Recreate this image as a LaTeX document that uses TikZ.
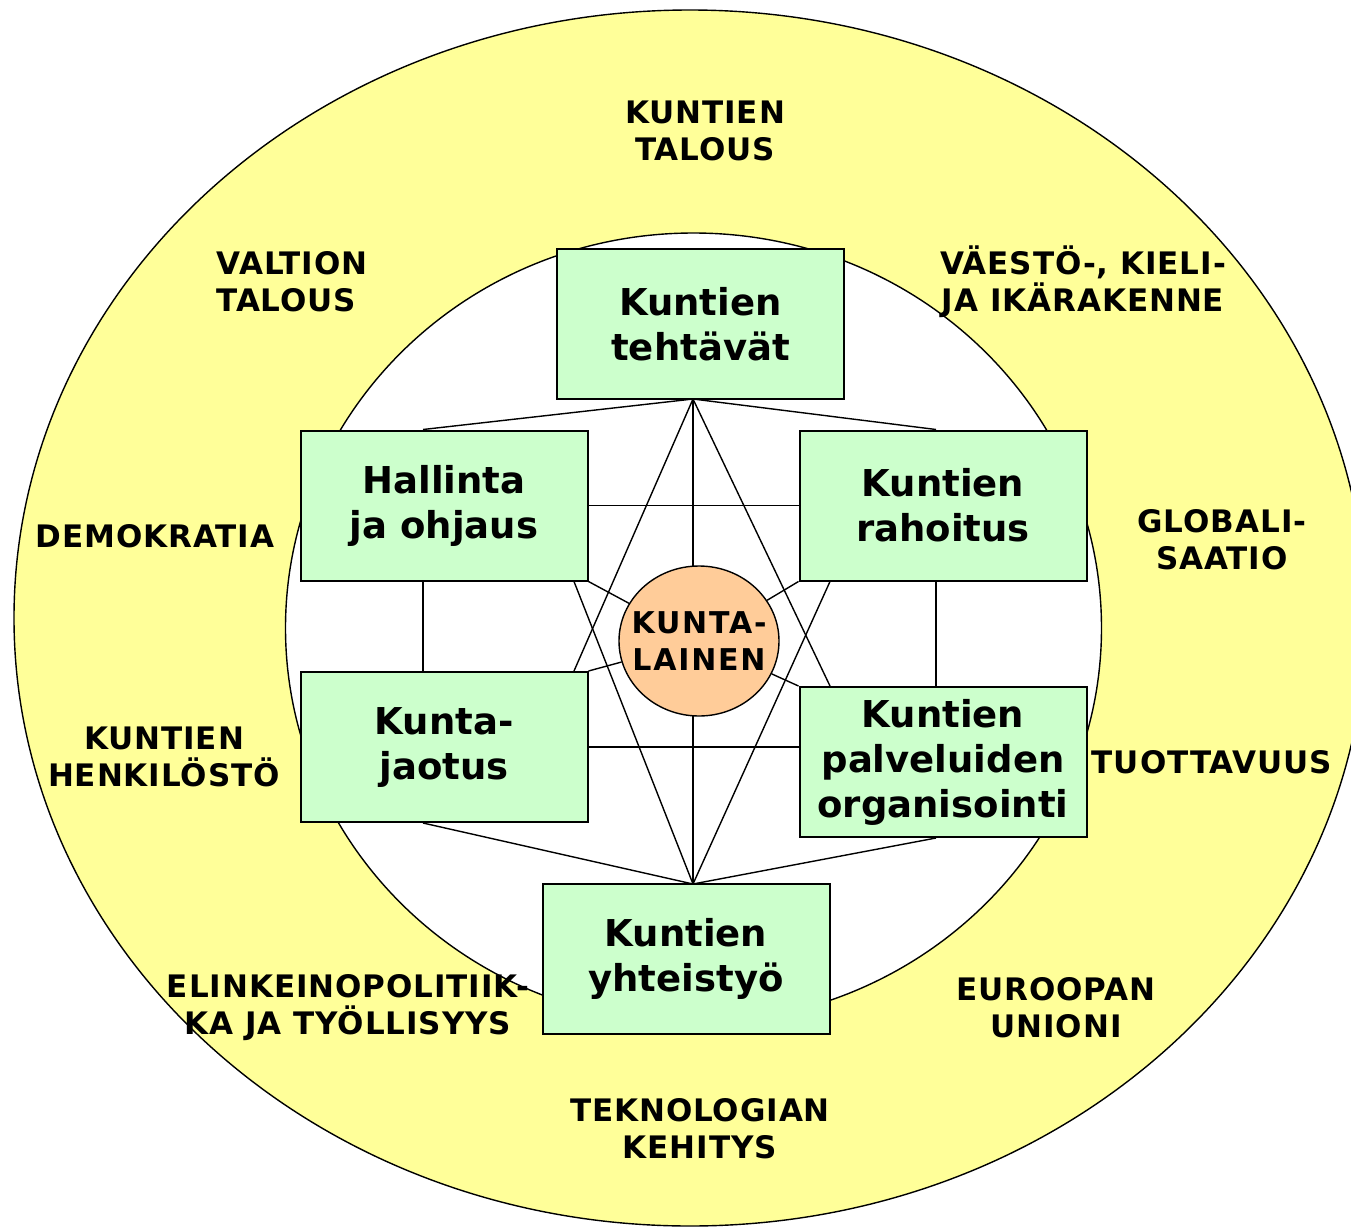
\documentclass[tikz,border=0pt]{standalone}
\usepackage{fontspec}
\setmainfont{DejaVu Sans}
\usetikzlibrary{backgrounds,shapes.geometric}
\definecolor{ringyellow}{HTML}{FFFF99}
\definecolor{boxgreen}{HTML}{CCFFCC}
\definecolor{citizen}{HTML}{FFCC99}
\begin{document}
\begin{tikzpicture}[x=0.5pt, y=-0.5pt,
		box/.style={draw, line width=1pt, fill=boxgreen, minimum width=143.5pt, minimum height=75pt,
			inner sep=0pt, align=center, font=\bfseries\fontsize{18.5}{22.5}\selectfont},
		factor/.style={align=center, inner sep=0pt,
			font=\bfseries\fontsize{15.5}{18.5}\selectfont\addfontfeature{LetterSpace=3}},
		link/.style={line width=0.7pt}]
		\useasboundingbox (0,0) rectangle (1351,1227);
		
		% Topic boxes
		\node[box] (teht) at (700.5,324) {Kuntien\\tehtävät};
		\node[box] (hall) at (444,505.5) {Hallinta\\ja ohjaus};
		\node[box] (rah) at (943,505.5) {Kuntien\\rahoitus};
		\node[box] (kjao) at (444,747) {Kunta-\\jaotus};
		\node[box] (palv) at (943,762) {Kuntien\\palveluiden\\organisointi};
		\node[box] (yht) at (686,958.5) {Kuntien\\yhteistyö};
		
		% Citizen in the middle
		\node[draw, ellipse, line width=0.7pt, fill=citizen, minimum width=80pt, minimum height=75pt,
			inner xsep=-20pt, inner ysep=-10pt, align=center,
			font=\bfseries\fontsize{15}{18.5}\selectfont\addfontfeature{LetterSpace=6}] (kl) at (699,641) {KUNTA-\\LAINEN};
		
		% Outer factors
		\node[factor] (ktal) at (705,131) {KUNTIEN\\TALOUS};
		\node[factor, align=left, anchor=west] (vtal) at (216,282) {VALTION\\TALOUS};
		\node[factor] (vaest) at (1083,282) {VÄESTÖ-, KIELI-\\JA IKÄRAKENNE};
		\node[factor] (demo) at (155,536) {DEMOKRATIA};
		\node[factor] (glob) at (1222,540) {GLOBALI-\\SAATIO};
		\node[factor] (henk) at (164,757) {KUNTIEN\\HENKILÖSTÖ};
		\node[factor] (tuot) at (1212,762) {TUOTTAVUUS};
		\node[factor] (elink) at (348,1008) {ELINKEINOPOLITIIK-\\KA JA TYÖLLISYYS};
		\node[factor] (euro) at (1056,1008) {EUROOPAN\\UNIONI};
		\node[factor] (tekn) at (700,1129) {TEKNOLOGIAN\\KEHITYS};
		
		% Meeting points and columns
		\coordinate (hubT) at (693,399);
		\coordinate (hubB) at (693,884);
		\coordinate (colL) at (423,0);
		\coordinate (colR) at (936,0);
		\coordinate (starL) at (574,0);
		\coordinate (starR) at (830,0);
		
		\begin{scope}[on background layer]
			% Rings
			\draw[fill=ringyellow, line width=0.7pt] (690,618) ellipse [x radius=338pt, y radius=304pt];
			\draw[fill=white, line width=0.7pt] (693.5,628) ellipse [x radius=204pt, y radius=197.5pt];
			
			% Links from the top box
			\draw[link] (hubT) -- (hall.north -| colL);
			\draw[link] (hubT) -- (rah.north -| colR);
			\draw[link] (hubT) -- (kjao.north -| starL);
			\draw[link] (hubT) -- (palv.north -| starR);
			\draw[link] (hubT) -- (hubB);
			
			% Links from the bottom box
			\draw[link] (hubB) -- (kjao.south -| colL);
			\draw[link] (hubB) -- (palv.south -| colR);
			\draw[link] (hubB) -- (hall.south -| starL);
			\draw[link] (hubB) -- (rah.south -| starR);
			
			% Side links
			\draw[link] (hall.east) -- (rah.west);
			\draw[link] (kjao.east) -- (kjao.east -| palv.west);
			\draw[link] (hall.south -| colL) -- (kjao.north -| colL);
			\draw[link] (rah.south -| colR) -- (palv.north -| colR);
			
			% Corners to the citizen
			\draw[link] (hall.south east) -- (kl);
			\draw[link] (rah.south west) -- (kl);
			\draw[link] (kjao.north east) -- (kl);
			\draw[link] (palv.north west) -- (kl);
		\end{scope}
	\end{tikzpicture}
\end{document}
